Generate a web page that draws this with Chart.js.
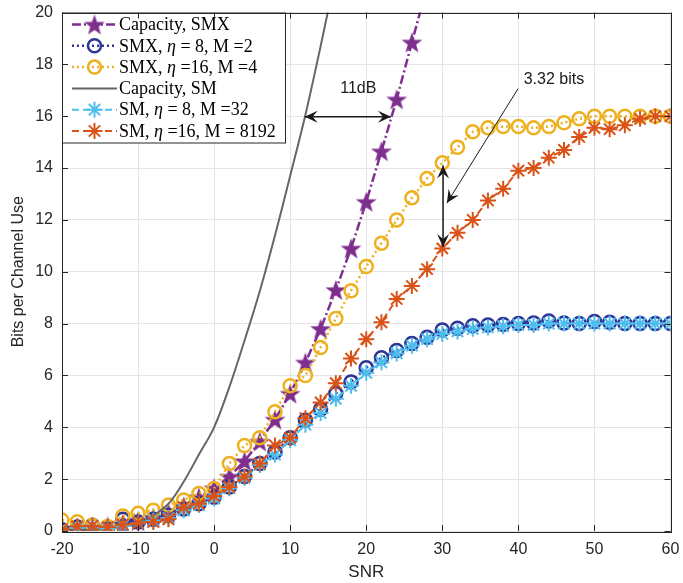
<!DOCTYPE html>
<html>
<head>
<meta charset="utf-8">
<script src="https://cdn.jsdelivr.net/npm/chart.js@4.4.0/dist/chart.umd.min.js"></script>
<style>
  html, body { margin: 0; padding: 0; background: #fff; }
  #wrap { width: 683px; height: 583px; }
</style>
</head>
<body>
<div id="wrap"><canvas id="bitsChart" width="683" height="583"></canvas></div>
<script>
// SNR points (dB), one marker every 2 dB
const snrDb = [-20, -18, -16, -14, -12, -10, -8, -6, -4, -2, 0, 2, 4, 6, 8, 10, 12, 14, 16, 18, 20,
               22, 24, 26, 28, 30, 32, 34, 36, 38, 40, 42, 44, 46, 48, 50, 52, 54, 56, 58, 60];

// values (bits per channel use)
const capacitySmx = [0.05, 0.08, 0.12, 0.18, 0.28, 0.38, 0.52, 0.7, 0.95, 1.3, 1.65, 2.1, 2.7, 3.45, 4.3, 5.3, 6.5, 7.8, 9.3, 10.9, 12.7,
                     14.65, 16.65, 18.85, 21.0, null, null, null, null, null, null, null, null, null, null, null, null, null, null, null, null];
const smxEta8 = [0.05, 0.15, 0.22, 0.12, 0.45, 0.35, 0.45, 0.6, 0.85, 1.05, 1.3, 1.7, 2.1, 2.6, 3.05, 3.6, 4.27, 4.7, 5.3, 5.75, 6.3,
                 6.68, 6.96, 7.23, 7.47, 7.75, 7.82, 7.92, 7.95, 7.97, 8.0, 8.02, 8.1, 8.02, 8.0, 8.08, 8.05, 8.0, 8.0, 8.0, 8.0];
const smxEta16 = [0.42, 0.36, 0.22, 0.17, 0.58, 0.68, 0.8, 1.0, 1.2, 1.45, 1.64, 2.6, 3.3, 3.6, 4.6, 5.6, 6.0, 7.08, 8.2, 9.27, 10.2,
                  11.1, 12.0, 12.85, 13.6, 14.2, 14.8, 15.4, 15.55, 15.6, 15.6, 15.55, 15.6, 15.75, 15.9, 16.0, 16.0, 16.0, 16.0, 16.0, 16.0];
const capacitySm = [0.02, 0.03, 0.05, 0.09, 0.16, 0.3, 0.6, 1.05, 1.9, 2.95, 4.0, 5.55, 7.35, 9.25, 11.4, 13.7, 16.05, 18.7, 21.5,
                    null, null, null, null, null, null, null, null, null, null, null, null, null, null, null, null, null, null, null, null, null, null];
const smEta8 = [0.03, 0.12, 0.2, 0.1, 0.2, 0.3, 0.4, 0.5, 0.8, 1.0, 1.25, 1.65, 2.05, 2.55, 2.95, 3.5, 4.1, 4.55, 5.1, 5.6, 6.1,
                6.5, 6.85, 7.15, 7.4, 7.6, 7.7, 7.8, 7.85, 7.9, 7.95, 7.95, 8.0, 8.0, 8.0, 8.0, 8.0, 8.0, 8.0, 8.0, 8.0];
const smEta16 = [0.05, 0.18, 0.2, 0.15, 0.25, 0.3, 0.35, 0.45, 0.92, 1.05, 1.35, 1.7, 2.1, 2.6, 3.3, 3.6, 4.35, 4.96, 5.7, 6.65, 7.4,
                 8.05, 8.95, 9.45, 10.1, 10.9, 11.5, 12.0, 12.75, 13.2, 13.9, 14.0, 14.4, 14.7, 15.2, 15.55, 15.5, 15.65, 15.9, 16.0, 16.0];

const seriesLabels = ['Capacity, SMX', 'SMX, η = 8, M =2', 'SMX, η =16, M =4',
                      'Capacity, SM', 'SM, η = 8, M =32', 'SM, η =16, M = 8192'];
const xTicks = [-20, -10, 0, 10, 20, 30, 40, 50, 60];
const yTicks = [0, 2, 4, 6, 8, 10, 12, 14, 16, 18, 20];

const SANS = '"Liberation Sans", Arial, sans-serif';
const SERIF = '"Liberation Serif", "Times New Roman", serif';

function makeStar(color, r) {
    const s = Math.ceil(r * 2 + 2);
    const c = document.createElement('canvas');
    c.width = s; c.height = s;
    const g = c.getContext('2d');
    g.translate(s / 2, s / 2 + 1);
    g.beginPath();
    for (let i = 0; i < 10; i++) {
        const rr = i % 2 ? r * 0.4 : r;
        const a = -Math.PI / 2 + i * Math.PI / 5;
        g.lineTo(rr * Math.cos(a), rr * Math.sin(a));
    }
    g.closePath();
    g.fillStyle = color;
    g.fill();
    return c;
}
const starImg = makeStar('#7E2F8E', 11);

function toPoints(ys) {
    return snrDb.map((x, i) => ({ x: x, y: ys[i] }));
}

const styles = [
    { data: capacitySmx, color: '#7E2F8E', dash: [9, 3, 2, 3], width: 2.5, marker: 'pentagram' },
    { data: smxEta8, color: '#2E3596', dash: [2, 3], width: 2.5, marker: 'circle' },
    { data: smxEta16, color: '#EDB120', dash: [2, 3], width: 2.5, marker: 'circle' },
    { data: capacitySm, color: '#666666', dash: [], width: 2, marker: 'none' },
    { data: smEta8, color: '#4DBEEE', dash: [7, 4], width: 2, marker: 'asterisk' },
    { data: smEta16, color: '#D95319', dash: [7, 4], width: 2, marker: 'asterisk' }
];

const datasets = styles.map((s, i) => {
    const ds = {
        label: seriesLabels[i],
        data: toPoints(s.data),
        showLine: true,
        borderColor: s.color,
        borderDash: s.dash,
        borderWidth: s.width,
        backgroundColor: 'rgba(0,0,0,0)',
        pointBorderColor: s.color,
        pointBackgroundColor: 'rgba(0,0,0,0)',
        order: 6 - i,
        tension: 0
    };
    if (s.marker === 'pentagram') {
        ds.pointStyle = starImg;
        ds.pointRadius = 10;
    } else if (s.marker === 'circle') {
        ds.pointStyle = 'circle';
        ds.pointRadius = 6.5;
        ds.pointBorderWidth = 2.5;
    } else if (s.marker === 'asterisk') {
        ds.pointStyle = 'star';
        ds.pointRadius = 8;
        ds.pointBorderWidth = 2;
    } else {
        ds.pointRadius = 0;
        ds.tension = 0.35;
    }
    return ds;
});

function arrowHead(ctx, x, y, ang) {
    ctx.save();
    ctx.translate(x, y);
    ctx.rotate(ang);
    ctx.beginPath();
    ctx.moveTo(0, 0);
    ctx.lineTo(-13, -6);
    ctx.lineTo(-8, 0);
    ctx.lineTo(-13, 6);
    ctx.closePath();
    ctx.fill();
    ctx.restore();
}

function arrow(ctx, x1, y1, x2, y2, both, lw) {
    ctx.lineWidth = lw;
    ctx.beginPath();
    ctx.moveTo(x1, y1);
    ctx.lineTo(x2, y2);
    ctx.stroke();
    const ang = Math.atan2(y2 - y1, x2 - x1);
    arrowHead(ctx, x2, y2, ang);
    if (both) arrowHead(ctx, x1, y1, ang + Math.PI);
}

function drawMarker(ctx, kind, color, x, y) {
    ctx.save();
    ctx.setLineDash([]);
    ctx.strokeStyle = color;
    if (kind === 'pentagram') {
        ctx.drawImage(starImg, x - starImg.width / 2, y - starImg.height / 2);
    } else if (kind === 'circle') {
        ctx.lineWidth = 2.5;
        ctx.beginPath();
        ctx.arc(x, y, 6.5, 0, Math.PI * 2);
        ctx.stroke();
    } else if (kind === 'asterisk') {
        ctx.lineWidth = 2;
        ctx.beginPath();
        for (let k = 0; k < 4; k++) {
            const a = k * Math.PI / 4;
            ctx.moveTo(x - 8 * Math.cos(a), y - 8 * Math.sin(a));
            ctx.lineTo(x + 8 * Math.cos(a), y + 8 * Math.sin(a));
        }
        ctx.stroke();
    }
    ctx.restore();
}

const decorPlugin = {
    id: 'decor',
    afterDatasetsDraw(chart) {
        const ctx = chart.ctx;
        const xs = chart.scales.x, ys = chart.scales.y;
        const px = v => xs.getPixelForValue(v);
        const py = v => ys.getPixelForValue(v);

        // annotations
        ctx.save();
        ctx.strokeStyle = '#1a1a1a';
        ctx.fillStyle = '#1a1a1a';
        arrow(ctx, px(11.9), py(15.98), px(23.25), py(15.98), true, 1.5);
        arrow(ctx, px(30.1), py(14.1), px(30.1), py(10.95), true, 1.5);
        arrow(ctx, px(39.95), py(17.06), px(30.6), py(12.65), false, 1);
        ctx.font = '16px ' + SANS;
        ctx.textBaseline = 'middle';
        ctx.textAlign = 'center';
        ctx.fillText('11dB', px(18.95), py(17.08));
        ctx.textAlign = 'left';
        ctx.fillText('3.32 bits', px(40.7), py(17.4));
        ctx.restore();

        // legend box
        const ca = chart.chartArea;
        const bx = ca.left, by = ca.top, bw = 223, bh = 130;
        ctx.save();
        ctx.fillStyle = '#ffffff';
        ctx.fillRect(bx, by, bw, bh);
        ctx.strokeStyle = '#262626';
        ctx.lineWidth = 1;
        ctx.strokeRect(bx + 0.5, by + 0.5, bw, bh);
        styles.forEach((s, i) => {
            const ry = by + 12 + i * 21.3;
            ctx.save();
            ctx.strokeStyle = s.color;
            ctx.lineWidth = s.width;
            ctx.setLineDash(s.dash);
            ctx.beginPath();
            ctx.moveTo(bx + 10, ry);
            ctx.lineTo(bx + 55, ry);
            ctx.stroke();
            ctx.restore();
            drawMarker(ctx, s.marker, s.color, bx + 32.5, ry);
            // label, with eta in italics
            const parts = seriesLabels[i].split('η');
            let tx = bx + 57;
            ctx.fillStyle = '#000';
            ctx.textBaseline = 'middle';
            ctx.textAlign = 'left';
            parts.forEach((p, k) => {
                ctx.font = '18px ' + SERIF;
                ctx.fillText(p, tx, ry + 1);
                tx += ctx.measureText(p).width;
                if (k < parts.length - 1) {
                    ctx.font = 'italic 18px ' + SERIF;
                    ctx.fillText('η', tx, ry + 1);
                    tx += ctx.measureText('η').width;
                }
            });
        });
        ctx.restore();
    },
    afterDraw(chart) {
        const ctx = chart.ctx;
        const ca = chart.chartArea;
        const xs = chart.scales.x, ys = chart.scales.y;
        ctx.save();
        ctx.strokeStyle = '#262626';
        ctx.lineWidth = 1;
        ctx.strokeRect(Math.round(ca.left) + 0.5, Math.round(ca.top) + 0.5,
                       Math.round(ca.right - ca.left), Math.round(ca.bottom - ca.top));
        ctx.beginPath();
        xTicks.forEach(v => {
            const x = Math.round(xs.getPixelForValue(v)) + 0.5;
            ctx.moveTo(x, ca.bottom); ctx.lineTo(x, ca.bottom - 6);
            ctx.moveTo(x, ca.top); ctx.lineTo(x, ca.top + 6);
        });
        yTicks.forEach(v => {
            const y = Math.round(ys.getPixelForValue(v)) + 0.5;
            ctx.moveTo(ca.left, y); ctx.lineTo(ca.left + 6, y);
            ctx.moveTo(ca.right, y); ctx.lineTo(ca.right - 6, y);
        });
        ctx.stroke();
        ctx.restore();
    }
};

new Chart(document.getElementById('bitsChart').getContext('2d'), {
    type: 'scatter',
    data: { datasets: datasets },
    options: {
        responsive: false,
        animation: false,
        layout: { padding: { top: 11, right: 11, left: 0, bottom: 0 } },
        plugins: {
            legend: { display: false },
            tooltip: { enabled: false }
        },
        scales: {
            x: {
                type: 'linear',
                min: -20,
                max: 60,
                afterBuildTicks: s => { s.ticks = xTicks.map(v => ({ value: v })); },
                grid: { color: '#e4e4e4', drawTicks: false },
                border: { display: false },
                ticks: { color: '#262626', padding: 9, font: { family: SANS, size: 16 } },
                title: { display: true, text: 'SNR', color: '#262626', padding: { top: 2, bottom: 0 },
                         font: { family: SANS, size: 17 } },
                afterFit: s => { s.height = 52; s.paddingLeft = 0; s.paddingRight = 0; }
            },
            y: {
                type: 'linear',
                min: 0,
                max: 20,
                afterBuildTicks: s => { s.ticks = yTicks.map(v => ({ value: v })); },
                grid: { color: '#e4e4e4', drawTicks: false },
                border: { display: false },
                ticks: { color: '#262626', padding: 9, font: { family: SANS, size: 16 } },
                title: { display: true, text: 'Bits per Channel Use', color: '#262626', padding: { top: 9, bottom: 0 },
                         font: { family: SANS, size: 16 } },
                afterFit: s => { s.width = 62; s.paddingTop = 0; s.paddingBottom = 0; }
            }
        }
    },
    plugins: [decorPlugin]
});
</script>
</body>
</html>
